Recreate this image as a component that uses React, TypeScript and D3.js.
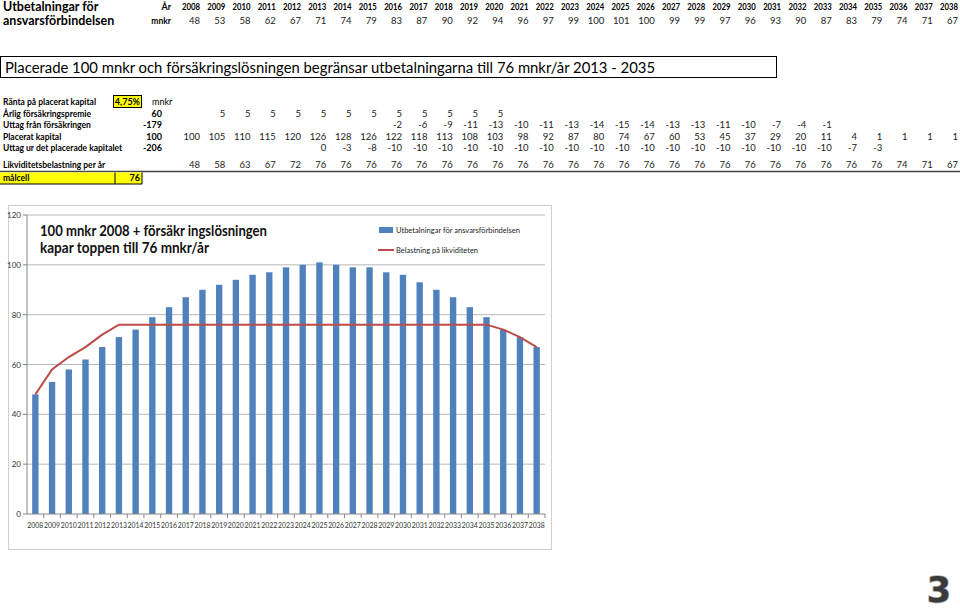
import React from "react";
import * as d3 from "d3";

const years = [2008,2009,2010,2011,2012,2013,2014,2015,2016,2017,2018,2019,2020,2021,2022,2023,2024,2025,2026,2027,2028,2029,2030,2031,2032,2033,2034,2035,2036,2037,2038];
const utbetalningar = [48,53,58,62,67,71,74,79,83,87,90,92,94,96,97,99,100,101,100,99,99,97,96,93,90,87,83,79,74,71,67];
const likviditet = [48,58,63,67,72,76,76,76,76,76,76,76,76,76,76,76,76,76,76,76,76,76,76,76,76,76,76,76,74,71,67];
const premie = [null,5,5,5,5,5,5,5,5,5,5,5,5,null,null,null,null,null,null,null,null,null,null,null,null,null,null,null,null,null,null];
const uttagForsakring = [null,null,null,null,null,null,null,null,-2,-6,-9,-11,-13,-10,-11,-13,-14,-15,-14,-13,-13,-11,-10,-7,-4,-1,null,null,null,null,null];
const placerat = [100,105,110,115,120,126,128,126,122,118,113,108,103,98,92,87,80,74,67,60,53,45,37,29,20,11,4,1,1,1,1];
const uttagKapital = [null,null,null,null,null,0,-3,-8,-10,-10,-10,-10,-10,-10,-10,-10,-10,-10,-10,-10,-10,-10,-10,-10,-10,-10,-7,-3,null,null,null];

const tableRows = [
  { label: "Ränta på placerat kapital", total: "", values: [] as (number | null)[] },
  { label: "Årlig försäkringspremie", total: "60", values: premie },
  { label: "Uttag från försäkringen", total: "-179", values: uttagForsakring },
  { label: "Placerat kapital", total: "100", values: placerat },
  { label: "Uttag ur det placerade kapitalet", total: "-206", values: uttagKapital },
];

const yTicks = [0, 20, 40, 60, 80, 100, 120];
const FONT = "Lato, 'Open Sans', sans-serif";

export default function App() {
  const colX = d3.scaleLinear().domain([0, years.length - 1]).range([200, 958]);
  const rowY = [102, 114, 125, 137, 148];

  const x = d3.scaleBand<number>().domain(years).range([27, 545]).paddingInner(0.62).paddingOuter(0.31);
  const xOuter = d3.scaleBand<number>().domain(years).range([27, 545]);
  const y = d3.scaleLinear().domain([0, 120]).range([514, 215]);
  const line = d3.line<number>()
    .x((_, i) => (xOuter(years[i]) as number) + xOuter.bandwidth() / 2)
    .y((d) => y(d));

  return (
    <svg width={960} height={611} style={{ position: "absolute", left: 0, top: 0, background: "#fff" }} fontFamily={FONT}>
      <rect x={0} y={0} width={960} height={611} fill="#fff" />
      {/* Header */}
      <text x={3} y={11} fontSize={12.5} fontWeight="bold" fill="#000">Utbetalningar för</text>
      <text x={3} y={25} fontSize={12.5} fontWeight="bold" fill="#000">ansvarsförbindelsen</text>
      <text x={171} y={10} fontSize={9} fontWeight="bold" textAnchor="end">År</text>
      <text x={171} y={24} fontSize={8.5} fontWeight="bold" textAnchor="end">mnkr</text>
      {years.map((yr, i) => (
        <g key={yr}>
          <text x={colX(i)} y={10} fontSize={9} fontWeight="bold" textAnchor="end" textLength={18} lengthAdjust="spacingAndGlyphs">{yr}</text>
          <text x={colX(i)} y={24} fontSize={9.5} textAnchor="end" fill="#222">{utbetalningar[i]}</text>
        </g>
      ))}

      {/* Title box */}
      <rect x={0.5} y={56.5} width={776} height={21} fill="none" stroke="#000" strokeWidth={1} />
      <text x={5} y={73} fontSize={15.5} fill="#000" textLength={650} lengthAdjust="spacingAndGlyphs">Placerade 100 mnkr och försäkringslösningen begränsar utbetalningarna till 76 mnkr/år 2013 - 2035</text>

      {/* Table */}
      <rect x={113.5} y={95.5} width={28} height={12} fill="#ffff00" stroke="#000" strokeWidth={1} />
      <text x={140} y={105} fontSize={9} fontWeight="bold" textAnchor="end">4,75%</text>
      <text x={152} y={105} fontSize={9}>mnkr</text>
      {tableRows.map((r, ri) => (
        <g key={r.label}>
          <text x={3} y={rowY[ri] + 3} fontSize={8.5} fontWeight="bold">{r.label}</text>
          {r.total && <text x={162} y={rowY[ri] + 3} fontSize={9} fontWeight="bold" textAnchor="end">{r.total}</text>}
          {r.values.map((v, i) => v === null ? null : (
            <text key={i} x={colX(i)} y={rowY[ri] + 3} fontSize={9.5} textAnchor="end" fill="#222">{v}</text>
          ))}
        </g>
      ))}
      <text x={3} y={168} fontSize={8.5} fontWeight="bold">Likviditetsbelastning per år</text>
      {likviditet.map((v, i) => (
        <text key={i} x={colX(i)} y={168} fontSize={9.5} textAnchor="end" fill="#222">{v}</text>
      ))}
      <line x1={0} x2={960} y1={171.5} y2={171.5} stroke="#444" strokeWidth={1.5} />
      <rect x={0} y={172.5} width={142} height={11.5} fill="#ffff00" />
      <line x1={115} x2={115} y1={172.5} y2={184} stroke="#000" strokeWidth={1} />
      <line x1={142} x2={142} y1={172.5} y2={184} stroke="#000" strokeWidth={1} />
      <line x1={0} x2={142} y1={184} y2={184} stroke="#000" strokeWidth={1} />
      <text x={3} y={181} fontSize={8.5} fontWeight="bold">målcell</text>
      <text x={140} y={181} fontSize={9} fontWeight="bold" textAnchor="end">76</text>

      {/* Chart frame */}
      <rect x={8.5} y={205.5} width={543} height={344} fill="#fff" stroke="#d0d0d0" strokeWidth={1} />
      {yTicks.map((t) => (
        <g key={t}>
          {t > 0 && <line x1={27} x2={545} y1={y(t)} y2={y(t)} stroke="#b8b8b8" strokeWidth={1} />}
          <line x1={23} x2={27} y1={y(t)} y2={y(t)} stroke="#888" />
          <text x={21} y={y(t) + 3} fontSize={8} textAnchor="end" fill="#333">{t}</text>
        </g>
      ))}
      <line x1={27} x2={27} y1={y(120)} y2={y(0)} stroke="#888" />
      {utbetalningar.map((v, i) => (
        <rect key={years[i]} x={x(years[i])} y={y(v)} width={x.bandwidth()} height={y(0) - y(v)} fill="#4f81bd" />
      ))}
      <line x1={27} x2={545} y1={y(0)} y2={y(0)} stroke="#888" />
      {years.map((yr) => (
        <line key={yr} x1={(xOuter(yr) as number) + xOuter.bandwidth()} x2={(xOuter(yr) as number) + xOuter.bandwidth()} y1={y(0)} y2={y(0) + 4} stroke="#888" />
      ))}
      {years.map((yr) => (
        <text key={yr} x={(xOuter(yr) as number) + xOuter.bandwidth() / 2} y={528} fontSize={8} textAnchor="middle" fill="#333" textLength={16} lengthAdjust="spacingAndGlyphs">{yr}</text>
      ))}
      <path d={line(likviditet) || ""} fill="none" stroke="#be4b48" strokeWidth={2} />

      {/* Chart title */}
      <text x={40} y={236} fontSize={14.5} fontWeight="bold" fill="#111" textLength={227} lengthAdjust="spacingAndGlyphs">100 mnkr 2008 + försäkr ingslösningen</text>
      <text x={40} y={253} fontSize={14.5} fontWeight="bold" fill="#111" textLength={169} lengthAdjust="spacingAndGlyphs">kapar toppen till 76 mnkr/år</text>

      {/* Legend */}
      <rect x={379} y={227} width={14} height={6} fill="#4f81bd" />
      <text x={396} y={233} fontSize={8} fill="#222" textLength={124} lengthAdjust="spacingAndGlyphs">Utbetalningar för ansvarsförbindelsen</text>
      <line x1={378} x2={394} y1={250} y2={250} stroke="#be4b48" strokeWidth={2} />
      <text x={396} y={253} fontSize={8} fill="#222" textLength={82} lengthAdjust="spacingAndGlyphs">Belastning på likviditeten</text>

      {/* Page number */}
      <text x={939} y={602} fontSize={35} fontWeight="bold" textAnchor="middle" fill="#3a3a3a" stroke="#b0b0b0" strokeWidth={1.5} paintOrder="stroke" fontFamily="'DejaVu Sans', sans-serif">3</text>
    </svg>
  );
}
